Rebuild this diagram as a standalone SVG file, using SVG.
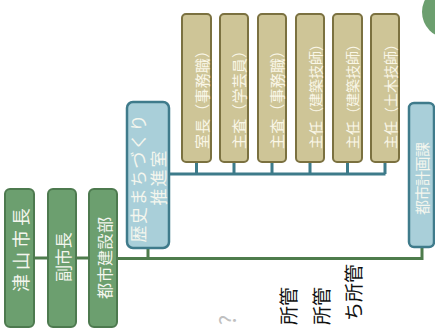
<svg xmlns="http://www.w3.org/2000/svg" width="435" height="329" viewBox="0 0 435 329">
<style>
text{font-family:"Noto Sans CJK JP","Noto Sans",sans-serif;}
.g rect{fill:#6c9f6f;stroke:#4d7a4f;stroke-width:2;}
.t rect{fill:#cec597;stroke:#7b7140;stroke-width:2;}
.b rect{fill:#a9cfd9;stroke:#3f7b8b;stroke-width:2.5;}
.g text,.b text{fill:#f4f6ee;}
.t text{fill:#faf7e8;}
.c{text-anchor:middle;dominant-baseline:central;}
.s{text-anchor:start;dominant-baseline:central;}
.gl{stroke:#4e7c4c;stroke-width:3;fill:none;}
.tl{stroke:#3d7b8a;stroke-width:3;fill:none;}
.k{fill:#111;font-size:19px;text-anchor:end;dominant-baseline:central;}
</style>
<circle cx="448" cy="12" r="26" fill="#6c9f6f"/>
<g id="connectors">
<path class="gl" d="M34 258H48M76 258H89M117 258.5H422V247M148 248V258.5"/>
<path class="tl" d="M169 174H385.5M196.5 162V174M234 162V174M272 162V174M310 162V174M347.5 162V174M385 162V174"/>
</g>
<g id="n-tsuyama" class="g"><rect x="5" y="189" width="29" height="138" rx="5"/><text class="c" font-size="18" textLength="84" transform="translate(19.5,250) rotate(-90)">津山市長</text></g>
<g id="n-fuku" class="g"><rect x="48" y="189" width="28" height="138" rx="5"/><text class="c" font-size="17" textLength="50" transform="translate(62.5,257) rotate(-90)">副市長</text></g>
<g id="n-toshiken" class="g"><rect x="89" y="189" width="28" height="138" rx="5"/><text class="c" font-size="16" textLength="82" transform="translate(103.5,258) rotate(-90)">都市建設部</text></g>
<g id="n-rekishi" class="b"><rect x="127" y="102" width="42" height="146" rx="6"/><text class="c" font-size="17" textLength="128" transform="translate(137.5,178.5) rotate(-90)">歴史まちづくり</text><text class="c" font-size="17" textLength="55" transform="translate(157.5,178) rotate(-90)">推進室</text></g>
<g id="n-keikaku" class="b"><rect x="409" y="103" width="25" height="144" rx="5"/><text class="c" font-size="15" textLength="73" transform="translate(421.5,178.5) rotate(-90)">都市計画課</text></g>
<g id="n-t1" class="t"><rect x="182" y="14" width="29" height="148" rx="4"/><text class="s" font-size="15" textLength="106" transform="translate(201.5,149) rotate(-90)">室長（事務職）</text></g>
<g id="n-t2" class="t"><rect x="220" y="14" width="28" height="148" rx="4"/><text class="s" font-size="15" textLength="106" transform="translate(238.5,149) rotate(-90)">主査（学芸員）</text></g>
<g id="n-t3" class="t"><rect x="258" y="14" width="28" height="148" rx="4"/><text class="s" font-size="15" textLength="106" transform="translate(276.5,149) rotate(-90)">主査（事務職）</text></g>
<g id="n-t4" class="t"><rect x="296" y="14" width="28" height="148" rx="4"/><text class="s" font-size="14" textLength="112" transform="translate(314.5,149) rotate(-90)">主任（建築技師）</text></g>
<g id="n-t5" class="t"><rect x="333" y="14" width="29" height="148" rx="4"/><text class="s" font-size="14" textLength="112" transform="translate(352,149) rotate(-90)">主任（建築技師）</text></g>
<g id="n-t6" class="t"><rect x="371" y="14" width="28" height="148" rx="4"/><text class="s" font-size="14" textLength="112" transform="translate(389.5,149) rotate(-90)">主任（土木技師）</text></g>
<text x="0" y="0" font-size="22" fill="#c0c0c0" class="c" style="text-anchor:middle" transform="translate(226,320) rotate(-90)">?</text>
<text class="k" transform="translate(287,287) rotate(-90)">所管</text>
<text class="k" transform="translate(320.5,287) rotate(-90)">所管</text>
<text class="k" transform="translate(352,264) rotate(-90)">ち所管</text>
</svg>
